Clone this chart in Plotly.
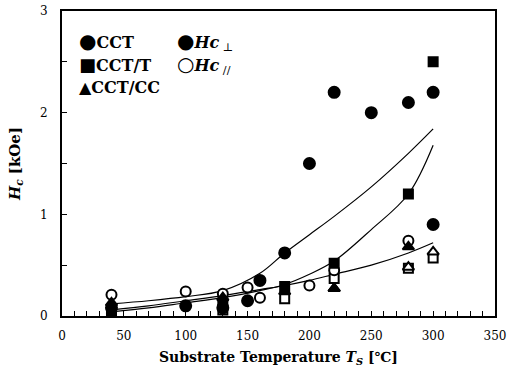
import plotly.graph_objects as go

# ---- data ----
T_cct_perp = [40, 100, 130, 150, 160, 180, 200, 220, 250, 280, 300, 300]
H_cct_perp = [0.08, 0.10, 0.08, 0.15, 0.35, 0.62, 1.50, 2.20, 2.00, 2.10, 2.20, 0.90]
T_cct_par = [40, 100, 130, 150, 160, 200, 220, 280]
H_cct_par = [0.21, 0.24, 0.22, 0.28, 0.18, 0.30, 0.45, 0.74]

T_cctT_perp = [40, 130, 180, 220, 280, 300]
H_cctT_perp = [0.03, 0.13, 0.29, 0.52, 1.20, 2.50]
T_cctT_par = [40, 130, 180, 220, 280, 300]
H_cctT_par = [0.04, 0.06, 0.17, 0.37, 0.47, 0.57]

T_cctCC_perp = [40, 130, 180, 220, 280]
H_cctCC_perp = [0.13, 0.18, 0.24, 0.27, 0.68]
T_cctCC_par = [220, 280, 300]
H_cctCC_par = [0.27, 0.48, 0.63]

# fitted curves
T_fit = [40, 70, 100, 130, 160, 180, 200, 220, 250, 280, 300]
H_fit_cct = [0.12, 0.15, 0.19, 0.25, 0.42, 0.62, 0.80, 0.98, 1.27, 1.60, 1.84]
H_fit_cctT = [0.04, 0.08, 0.13, 0.18, 0.25, 0.31, 0.41, 0.54, 0.85, 1.20, 1.68]
H_fit_cctCC = [0.06, 0.10, 0.15, 0.20, 0.26, 0.30, 0.35, 0.41, 0.50, 0.62, 0.72]

x_ticks = [0, 50, 100, 150, 200, 250, 300, 350]
y_ticks = [0, 1, 2, 3]

fig = go.Figure()
line_style = dict(color="black", width=1.2, shape="spline")
for h in (H_fit_cct, H_fit_cctT, H_fit_cctCC):
    fig.add_trace(go.Scatter(x=T_fit, y=h, mode="lines", line=line_style, showlegend=False, hoverinfo="skip"))

def pts(x, y, symbol, filled, size=10):
    fig.add_trace(go.Scatter(
        x=x, y=y, mode="markers", showlegend=False,
        marker=dict(symbol=symbol, size=size,
                    color="black" if filled else "white",
                    line=dict(color="black", width=2))))

pts(T_cctT_par, H_cctT_par, "square", False, 9)
pts(T_cctCC_par, H_cctCC_par, "triangle-up", False, 10)
pts(T_cct_par, H_cct_par, "circle", False, 10)
pts(T_cctCC_perp, H_cctCC_perp, "triangle-up", True, 10)
pts(T_cctT_perp, H_cctT_perp, "square", True, 9)
pts(T_cct_perp, H_cct_perp, "circle", True, 11)

serif = "DejaVu Serif"
legend_items = [
    (0.035, 0.9, "<span style='font-size:20px'>●</span><b>CCT</b>"),
    (0.035, 0.825, "<span style='font-size:18px'>■</span><b>CCT/T</b>"),
    (0.035, 0.75, "<span style='font-size:16px'>▲</span><b>CCT/CC</b>"),
    (0.262, 0.9, "<span style='font-size:20px'>●</span><b><i>Hc</i></b><sub> ⊥</sub>"),
    (0.262, 0.825, "<span style='font-size:20px'>○</span><b><i>Hc</i></b><sub> //</sub>"),
]
for xa, ya, txt in legend_items:
    fig.add_annotation(x=xa, y=ya, xref="paper", yref="paper", text=txt, showarrow=False,
                       xanchor="left", yanchor="middle", font=dict(family=serif, size=16, color="black"))

fig.update_layout(
    width=508, height=386,
    margin=dict(l=62, r=13, t=11, b=70),
    paper_bgcolor="white", plot_bgcolor="white",
    font=dict(family=serif, size=13, color="black"),
    showlegend=False,
)
fig.update_xaxes(
    range=[0, 350], tickvals=x_ticks, ticktext=[str(v) for v in x_ticks],
    ticks="inside", ticklen=5, tickwidth=1, tickcolor="black",
    minor=dict(dtick=10, ticks="inside", ticklen=5, tickcolor="black"),
    showline=True, linecolor="black", linewidth=2, mirror=True, showgrid=False, zeroline=False,
    ticklabelstandoff=8, automargin=False,
    tickfont=dict(family=serif, size=12),
    title=dict(text="<b>Substrate Temperature <i>T<sub>S</sub></i> [℃]</b>", font=dict(size=14, family=serif), standoff=10),
)
fig.update_yaxes(
    range=[0, 3], tickvals=y_ticks, ticktext=[str(v) for v in y_ticks],
    ticks="inside", ticklen=5, tickwidth=1, tickcolor="black",
    minor=dict(dtick=0.5, ticks="inside", ticklen=5, tickcolor="black"),
    showline=True, linecolor="black", linewidth=2, mirror=True, showgrid=False, zeroline=False,
    ticklabelstandoff=10, automargin=False,
    tickfont=dict(family=serif, size=12),
    title=dict(text="<b><i>H<sub>c</sub></i> [kOe]</b>", font=dict(size=15, family=serif), standoff=16),
)
fig.write_html("out.html", config={"displayModeBar": False},
               post_script="document.body.style.margin='0';")
